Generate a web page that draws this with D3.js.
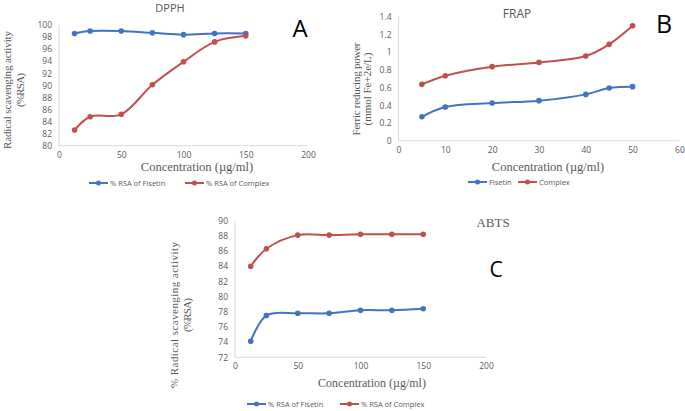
<!DOCTYPE html>
<html><head><meta charset="utf-8">
<script src="https://cdn.jsdelivr.net/npm/d3@7"></script>
<style>body{margin:0;background:#fff}svg{display:block}</style>
</head><body>
<script>
// ---- Data ----
const concAC = [12.5, 25, 50, 75, 100, 125, 150];
const dpphFisetin = [98.6, 99.0, 99.0, 98.7, 98.4, 98.6, 98.6];
const dpphComplex = [82.6, 84.8, 85.2, 90.1, 93.9, 97.2, 98.2];
const concB = [5, 10, 20, 30, 40, 45, 50];
const frapFisetin = [0.27, 0.38, 0.425, 0.452, 0.523, 0.595, 0.61];
const frapComplex = [0.636, 0.734, 0.836, 0.884, 0.956, 1.088, 1.298];
const abtsFisetin = [74.1, 77.5, 77.8, 77.8, 78.2, 78.2, 78.4];
const abtsComplex = [84.0, 86.3, 88.1, 88.1, 88.2, 88.2, 88.2];
const ticksXAC = [0, 50, 100, 150, 200];
const ticksYA = [80, 82, 84, 86, 88, 90, 92, 94, 96, 98, 100];
const ticksXB = [0, 10, 20, 30, 40, 50, 60];
const ticksYB = [0, 0.2, 0.4, 0.6, 0.8, 1, 1.2, 1.4];
const ticksYC = [72, 74, 76, 78, 80, 82, 84, 86, 88, 90];

const BLUE = "#4472c4", RED = "#c0504d", GRID = "#d9d9d9", TXT = "#595959";

const svg = d3.select("body").append("svg").attr("width", 685).attr("height", 411);

function panel(o) {
  const g = svg.append("g");
  const x = d3.scaleLinear().domain(o.xd).range(o.xr);
  const y = d3.scaleLinear().domain(o.yd).range(o.yr);
  const ax = g.append("g").attr("transform", `translate(0,${o.yr[0]})`)
    .call(d3.axisBottom(x).tickValues(o.xt).tickSize(0).tickPadding(6).tickFormat(d3.format("")));
  const ay = g.append("g").attr("transform", `translate(${o.xr[0]},0)`)
    .call(d3.axisLeft(y).tickValues(o.yt).tickSize(0).tickPadding(7).tickFormat(d => String(+d.toFixed(2))));
  [ax, ay].forEach(a => {
    a.select(".domain").attr("stroke", GRID).attr("stroke-width", 1);
    a.selectAll("text").attr("fill", TXT).style("font-family", "Open Sans, sans-serif").style("font-size", "8.5px");
  });
  ay.select(".domain").attr("d", `M0,${o.yr[0]}V${o.yr[1]}`);
  ax.select(".domain").attr("d", `M${o.xr[0]},0H${o.xr[1]}`);
  const line = d3.line().x(d => x(d[0])).y(d => y(d[1])).curve(d3.curveCatmullRom.alpha(0.5));
  o.series.forEach(s => {
    const pts = o.xs.map((v, i) => [v, s.v[i]]);
    g.append("path").attr("d", line(pts)).attr("fill", "none").attr("stroke", s.c).attr("stroke-width", 2);
    g.selectAll(null).data(pts).enter().append("circle")
      .attr("cx", d => x(d[0])).attr("cy", d => y(d[1])).attr("r", 2.8).attr("fill", s.c);
  });
  const yt = g.append("text").attr("transform", `translate(${o.ytx},${o.yty}) rotate(-90)`)
    .attr("text-anchor", "middle").attr("fill", TXT)
    .style("font-family", "Liberation Serif, serif").style("font-size", o.ytfs + "px");
  o.ytl.forEach((t, i) => yt.append("tspan").attr("x", 0).attr("dy", i ? o.ytdy : 0)
    .attr("textLength", o.ytlen[i]).attr("lengthAdjust", "spacing").text(t));
  g.append("text").attr("x", o.xtx).attr("y", o.xty).attr("text-anchor", "middle").attr("fill", TXT)
    .style("font-family", "Liberation Serif, serif").style("font-size", o.xtfs + "px").text("Concentration  (µg/ml)");
  g.append("text").attr("x", o.tx).attr("y", o.ty).attr("text-anchor", "middle").attr("fill", o.tc)
    .style("font-family", o.tf).style("font-size", o.tfs + "px").text(o.title);
  g.append("text").attr("x", o.lx).attr("y", o.ly).attr("text-anchor", "middle").attr("fill", "#000")
    .style("font-family", "Open Sans, sans-serif").style("font-size", o.lfs + "px").text(o.letter);
  o.series.forEach((s, i) => {
    const lx = o.leg[i];
    g.append("line").attr("x1", lx).attr("x2", lx + 19).attr("y1", o.legy).attr("y2", o.legy)
      .attr("stroke", s.c).attr("stroke-width", 2);
    g.append("circle").attr("cx", lx + 9.5).attr("cy", o.legy).attr("r", 2.5).attr("fill", s.c);
    g.append("text").attr("x", lx + 21).attr("y", o.legy + 3).attr("fill", TXT)
      .style("font-family", "Open Sans, sans-serif").style("font-size", "7.5px").text(s.n);
  });
}

panel({
  xd: [0, 200], xr: [59, 308], yd: [80, 100], yr: [145.7, 25], xt: ticksXAC, yt: ticksYA, xs: concAC,
  series: [{ v: dpphFisetin, c: BLUE, n: "% RSA of Fisetin" }, { v: dpphComplex, c: RED, n: "% RSA of Complex" }],
  ytx: 11, yty: 90, ytfs: 11, ytdy: 13, ytl: ["Radical  scavenging  activity", "(%RSA)"], ytlen: [118, 34],
  xtx: 197, xty: 171, xtfs: 12.5,
  title: "DPPH", tx: 170, ty: 12, tc: TXT, tf: "Open Sans, sans-serif", tfs: 11,
  letter: "A", lx: 300, ly: 37, lfs: 24, leg: [89, 185], legy: 183
});
panel({
  xd: [0, 60], xr: [398.5, 679.4], yd: [0, 1.4], yr: [140.7, 16.7], xt: ticksXB, yt: ticksYB, xs: concB,
  series: [{ v: frapFisetin, c: BLUE, n: "Fisetin" }, { v: frapComplex, c: RED, n: "Complex" }],
  ytx: 360, yty: 89, ytfs: 11, ytdy: 11, ytl: ["Ferric  reducing  power", "(mmol  Fe+2e/L)"], ytlen: [93, 73],
  xtx: 548, xty: 171, xtfs: 12.5,
  title: "FRAP", tx: 517, ty: 18, tc: TXT, tf: "Open Sans, sans-serif", tfs: 12,
  letter: "B", lx: 664, ly: 33, lfs: 25, leg: [468, 518], legy: 182
});
panel({
  xd: [0, 200], xr: [235, 486], yd: [72, 90], yr: [357.3, 220.7], xt: ticksXAC, yt: ticksYC, xs: concAC,
  series: [{ v: abtsFisetin, c: BLUE, n: "% RSA of Fisetin" }, { v: abtsComplex, c: RED, n: "% RSA of Complex" }],
  ytx: 178, yty: 315, ytfs: 11, ytdy: 13, ytl: ["% Radical  scavenging  activity", "(%RSA)"], ytlen: [146, 34],
  xtx: 372, xty: 387, xtfs: 12,
  title: "ABTS", tx: 493, ty: 227, tc: TXT, tf: "Liberation Serif, serif", tfs: 13,
  letter: "C", lx: 496, ly: 277, lfs: 21, leg: [247, 340], legy: 404
});
</script>
</body></html>
